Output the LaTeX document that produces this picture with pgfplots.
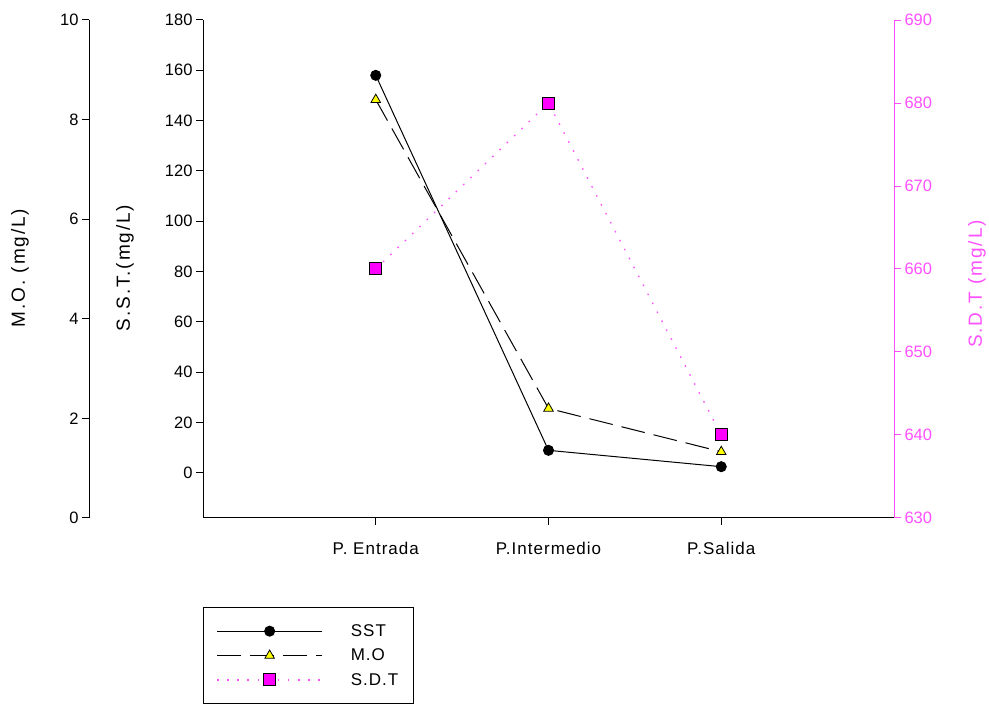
\documentclass[border=0pt]{standalone}
\usepackage{fontspec}
\setmainfont{Liberation Sans}
\newfontfamily\lsfont[LetterSpace=6]{Liberation Sans}
\newfontfamily\lblfont[LetterSpace=10]{Liberation Sans}
\usepackage{pgfplots}
\pgfplotsset{compat=1.18}
\definecolor{pinkax}{RGB}{255,80,255}
\definecolor{mag}{RGB}{255,0,255}
\definecolor{ylw}{RGB}{255,255,0}
\pgfplotsset{
  base/.style={scale only axis, height=498pt, clip=false,
    tick align=outside, major tick length=7pt,
    /pgf/number format/assume math mode=true,
    tick label style={font=\fontsize{16.5}{19}\selectfont},
    label style={font=\lblfont\fontsize{19}{22}\selectfont},
    axis line style={-, line width=1pt},
    tick style={line width=1pt, black}},
  sststyle/.style={black, line width=1pt, mark=*, mark size=5pt, mark options={solid}},
  mostyle/.style={black, line width=1pt, dash pattern=on 24pt off 9pt, mark=triangle*, mark size=5.5pt, mark options={solid, fill=ylw, draw=black, line width=0.8pt}},
  sdtstyle/.style={pinkax, line width=1.3pt, dash pattern=on 1.6pt off 8.5pt, mark=square*, mark size=6pt, mark options={solid, fill=mag, draw=black, line width=1pt}},
}
\begin{document}
\begin{tikzpicture}
\path[use as bounding box] (0,0) rectangle (989pt,704pt);
% M.O. axis (outer left)
\begin{axis}[base, at={(89pt,186pt)}, anchor=south west, width=805pt,
  xmin=-1.66, xmax=3, ymin=0, ymax=10,
  axis x line=none, axis y line*=left, ytick pos=left,
  ytick={0,2,...,10},
  ylabel={M.O. (mg/L)},
  ylabel style={at={(axis description cs:-0.0857,0.502)}, anchor=center, rotate=0}]
\addplot[mostyle] coordinates {(0,8.4) (1,2.2) (2,1.33)};
\end{axis}
% S.S.T. axis (main)
\begin{axis}[base, at={(203pt,186pt)}, anchor=south west, width=691pt,
  xmin=-1, xmax=3, ymin=-18, ymax=180,
  axis x line*=bottom, axis y line*=left, tick pos=left,
  xtick={0,1,2}, xticklabels={P. Entrada, P.Intermedio, P.Salida},
  xticklabel style={font=\lsfont\fontsize{17}{20}\selectfont, yshift=-14pt},
  ytick={0,20,...,180},
  ylabel={S.S.T.(mg/L)},
  ylabel style={at={(axis description cs:-0.113,0.502)}, anchor=center, rotate=0}]
\addplot[sststyle] coordinates {(0,158) (1,8.9) (2,2.4)};
\end{axis}
% S.D.T axis (right)
\begin{axis}[base, at={(203pt,186pt)}, anchor=south west, width=691pt,
  xmin=-1, xmax=3, ymin=630, ymax=690,
  axis x line=none, axis y line*=right, ytick pos=right,
  ytick={630,640,...,690},
  y axis line style={pinkax},
  ytick style={pinkax},
  yticklabel style={pinkax},
  ylabel={S.D.T (mg/L)},
  ylabel style={pinkax, at={(axis description cs:1.12,0.47)}, anchor=center, rotate=0},
  legend style={at={(axis description cs:0,-0.1787)}, anchor=north west,
    draw=black, line width=1pt, inner xsep=13pt, inner ysep=15pt,
    row sep=7pt, column sep=26pt,
    font=\lsfont\fontsize{17}{20}\selectfont},
  legend cell align=left,
  legend image code/.code={\draw[mark repeat=2,mark phase=2,#1] plot coordinates {(0pt,0pt) (52.5pt,0pt) (105pt,0pt)};}]
\addlegendimage{sststyle}
\addlegendentry{SST}
\addlegendimage{mostyle}
\addlegendentry{M.O}
\addplot[sdtstyle] coordinates {(0,660) (1,680) (2,640)};
\addlegendentry{S.D.T}
\end{axis}
\end{tikzpicture}
\end{document}
